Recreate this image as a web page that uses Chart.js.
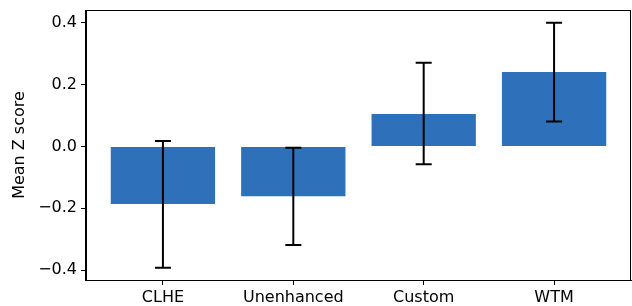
<!DOCTYPE html>
<html>
<head>
<meta charset="utf-8">
<script src="https://cdn.jsdelivr.net/npm/chart.js@4"></script>
<style>
  html, body { margin: 0; padding: 0; background: #fff; }
  canvas { display: block; }
</style>
</head>
<body>
<canvas id="chart" width="632" height="306"></canvas>
<script>
const categories = ["CLHE", "Unenhanced", "Custom", "WTM"];
const meanScores = [-0.186, -0.161, 0.105, 0.241];
const errLow = [-0.392, -0.319, -0.057, 0.081];
const errHigh = [0.018, -0.004, 0.271, 0.401];
const yTicks = [-0.4, -0.2, 0.0, 0.2, 0.4];

const FONT = "'DejaVu Sans', sans-serif";

function fmtTick(v) {
  const s = Math.abs(v).toFixed(1);
  return v < -1e-9 ? "\u2212" + s : s;
}

// error bars with caps + the box around the plot
const errorBars = {
  id: "errorBars",
  afterDatasetsDraw(chart) {
    const { ctx, scales } = chart;
    const xs = scales.x, ys = scales.y;
    ctx.save();
    ctx.strokeStyle = "#000";
    ctx.lineWidth = 2;
    categories.forEach((c, i) => {
      const px = xs.getPixelForValue(i);
      const top = ys.getPixelForValue(errHigh[i]);
      const bot = ys.getPixelForValue(errLow[i]);
      ctx.beginPath();
      ctx.moveTo(px, top); ctx.lineTo(px, bot);
      ctx.moveTo(px - 8, top); ctx.lineTo(px + 8, top);
      ctx.moveTo(px - 8, bot); ctx.lineTo(px + 8, bot);
      ctx.stroke();
    });
    const a = chart.chartArea;
    ctx.lineWidth = 1;
    ctx.strokeRect(Math.round(a.left) - 0.5, Math.round(a.top) + 0.5, Math.round(a.right - a.left), Math.round(a.bottom - a.top));
    ctx.restore();
  }
};

new Chart(document.getElementById("chart"), {
  type: "bar",
  data: {
    datasets: [{
      data: meanScores.map((v, i) => ({ x: i, y: v })),
      backgroundColor: "#2e70ba",
      borderWidth: 0,
      inflateAmount: 0,
      categoryPercentage: 1,
      barPercentage: 0.8
    }]
  },
  options: {
    responsive: false,
    animation: false,
    devicePixelRatio: 1,
    layout: { padding: { left: 0, top: 10, right: 1, bottom: 0 } },
    plugins: { legend: { display: false }, tooltip: { enabled: false } },
    scales: {
      x: {
        type: "linear",
        offset: false,
        min: -0.59,
        max: 3.59,
        afterBuildTicks: (s) => { s.ticks = categories.map((c, i) => ({ value: i })); },
        afterFit: (s) => { s.height = 26; s.paddingLeft = 0; s.paddingRight = 0; },
        ticks: {
          callback: (v) => categories[v],
          color: "#000",
          font: { family: FONT, size: 16 },
          padding: 3,
          maxRotation: 0
        },
        grid: { offset: false, drawOnChartArea: false, drawTicks: true, tickLength: 5, color: "#000", lineWidth: 1 },
        border: { display: true, color: "#000" }
      },
      y: {
        min: -0.432,
        max: 0.442,
        afterBuildTicks: (s) => { s.ticks = yTicks.map((v) => ({ value: v })); },
        afterFit: (s) => { s.width = 86; s.paddingTop = 0; s.paddingBottom = 0; },
        ticks: {
          callback: (v) => fmtTick(v),
          color: "#000",
          font: { family: FONT, size: 16 },
          padding: 4
        },
        grid: { drawOnChartArea: false, drawTicks: true, tickLength: 5, color: "#000", lineWidth: 1 },
        border: { display: true, color: "#000" },
        title: {
          display: true,
          text: "Mean Z score",
          color: "#000",
          font: { family: FONT, size: 16 },
          padding: { top: 10, bottom: 0 }
        }
      }
    }
  },
  plugins: [errorBars]
});
</script>
</body>
</html>
